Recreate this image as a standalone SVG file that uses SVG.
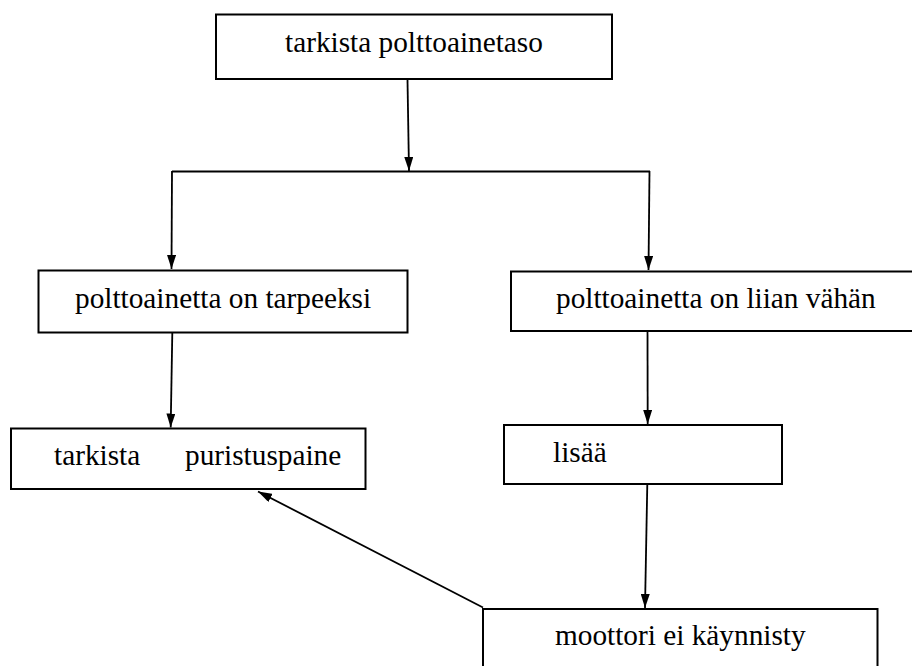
<svg xmlns="http://www.w3.org/2000/svg" width="912" height="666" viewBox="0 0 912 666">
<style>
.box{fill:#fff;stroke:#000;stroke-width:2}
.t{font-family:"Liberation Serif","Times New Roman",serif;font-size:29.3px;fill:#000}
.c{stroke:#000;stroke-width:1.8;fill:none}
</style>
<defs>
<marker id="ah" markerUnits="userSpaceOnUse" markerWidth="14" markerHeight="9" refX="14" refY="4.5" orient="auto">
<path d="M0,0 L14,4.5 L0,9 z" fill="#000"/>
</marker>
</defs>
<rect width="912" height="666" fill="#fff"/>
<g id="n1"><rect class="box" x="216" y="14.5" width="396" height="64.5"/><text class="t" x="285" y="52">tarkista polttoainetaso</text></g>
<g id="n2"><rect class="box" x="38.5" y="270.5" width="369" height="62"/><text class="t" x="75" y="308">polttoainetta on tarpeeksi</text></g>
<g id="n3"><rect class="box" x="511" y="271.5" width="410" height="59.5"/><text class="t" x="556" y="308">polttoainetta on liian vähän</text></g>
<g id="n4"><rect class="box" x="11" y="428.5" width="354.5" height="60.5"/><text class="t" y="465"><tspan x="54">tarkista</tspan><tspan x="185">puristuspaine</tspan></text></g>
<g id="n5"><rect class="box" x="504" y="425" width="278" height="59"/><text class="t" x="553" y="462">lisää</text></g>
<g id="n6"><rect class="box" x="483" y="609" width="394.5" height="70"/><text class="t" x="555" y="645">moottori ei käynnisty</text></g>
<g id="connectors">
<line class="c" x1="407.5" y1="80" x2="409" y2="171" marker-end="url(#ah)"/>
<line class="c" x1="172" y1="171.5" x2="650" y2="171.5"/>
<line class="c" x1="172" y1="171" x2="171.5" y2="269" marker-end="url(#ah)"/>
<line class="c" x1="649.5" y1="171" x2="648.5" y2="270" marker-end="url(#ah)"/>
<line class="c" x1="172.3" y1="333" x2="170.7" y2="427.5" marker-end="url(#ah)"/>
<line class="c" x1="647.5" y1="331" x2="647.7" y2="424" marker-end="url(#ah)"/>
<line class="c" x1="647.3" y1="484" x2="645" y2="608" marker-end="url(#ah)"/>
<line class="c" x1="483" y1="607.5" x2="258" y2="491.5" marker-end="url(#ah)"/>
</g>
</svg>
